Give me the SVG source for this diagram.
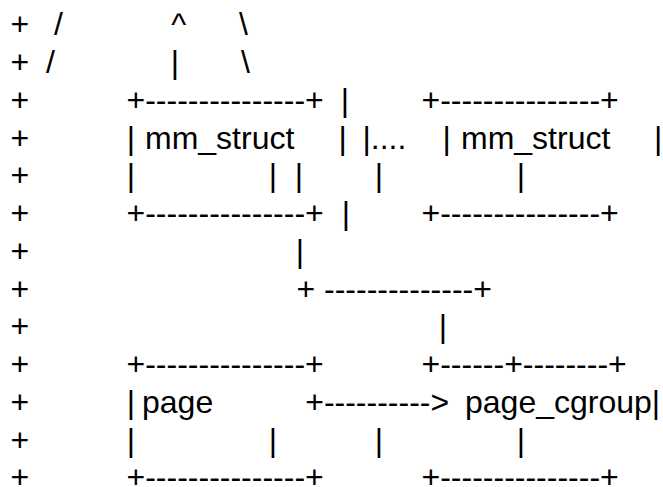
<svg xmlns="http://www.w3.org/2000/svg" width="663" height="487" viewBox="0 0 663 487">
<style>
text { font-family: "Liberation Sans", Arial, sans-serif; font-size: 32px; fill: #000; white-space: pre; }
</style>
<rect width="663" height="487" fill="#fff"/>
<g id="margin">
<text x="10.5" y="35.3">+</text>
<text x="10.5" y="73.05">+</text>
<text x="10.5" y="110.8">+</text>
<text x="10.5" y="148.55">+</text>
<text x="10.5" y="186.3">+</text>
<text x="10.5" y="224.05">+</text>
<text x="10.5" y="261.8">+</text>
<text x="10.5" y="299.55">+</text>
<text x="10.5" y="337.3">+</text>
<text x="10.5" y="375.05">+</text>
<text x="10.5" y="412.8">+</text>
<text x="10.5" y="450.55">+</text>
<text x="10.5" y="488.3">+</text>
</g>
<g id="mm_struct_1">
<text x="126.5" y="110.8">+---------------+</text>
<text x="126.8" y="148.55">|</text>
<text x="145" y="148.55">mm_struct</text>
<text x="338.5" y="148.55">|</text>
<text x="126.8" y="186.3">|</text>
<text x="268.8" y="186.3">|</text>
<text x="126.5" y="224.05">+---------------+</text>
</g>
<g id="mm_struct_2">
<text x="421.5" y="110.8">+---------------+</text>
<text x="442.5" y="148.55">|</text>
<text x="461" y="148.55">mm_struct</text>
<text x="654" y="148.55">|</text>
<text x="374.8" y="186.3">|</text>
<text x="516.8" y="186.3">|</text>
<text x="421.5" y="224.05">+---------------+</text>
</g>
<g id="page">
<text x="126.5" y="375.05">+---------------+</text>
<text x="126.8" y="412.8">|</text>
<text x="142" y="412.8">page</text>
<text x="126.8" y="450.55">|</text>
<text x="268.8" y="450.55">|</text>
<text x="126.5" y="488.3">+---------------+</text>
</g>
<g id="page_cgroup">
<text x="421.5" y="375.05">+------+--------+</text>
<text x="465" y="412.8">page_cgroup|</text>
<text x="374.8" y="450.55">|</text>
<text x="516.8" y="450.55">|</text>
<text x="421.5" y="488.3">+---------------+</text>
</g>
<g id="connectors">
<text x="54" y="35.3">/</text>
<text x="171.2" y="35.3">^</text>
<text x="239" y="35.3">\</text>
<text x="46" y="73.05">/</text>
<text x="170.8" y="73.05">|</text>
<text x="241" y="73.05">\</text>
<text x="340.8" y="110.8">|</text>
<text x="362.5" y="148.55">|....</text>
<text x="294.8" y="186.3">|</text>
<text x="341.8" y="224.05">|</text>
<text x="295.8" y="261.8">|</text>
<text x="296.5" y="299.55">+</text>
<text x="324" y="299.55">--------------+</text>
<text x="438.8" y="337.3">|</text>
<text x="305.2" y="412.8">+----------&gt;</text>
</g>
</svg>
